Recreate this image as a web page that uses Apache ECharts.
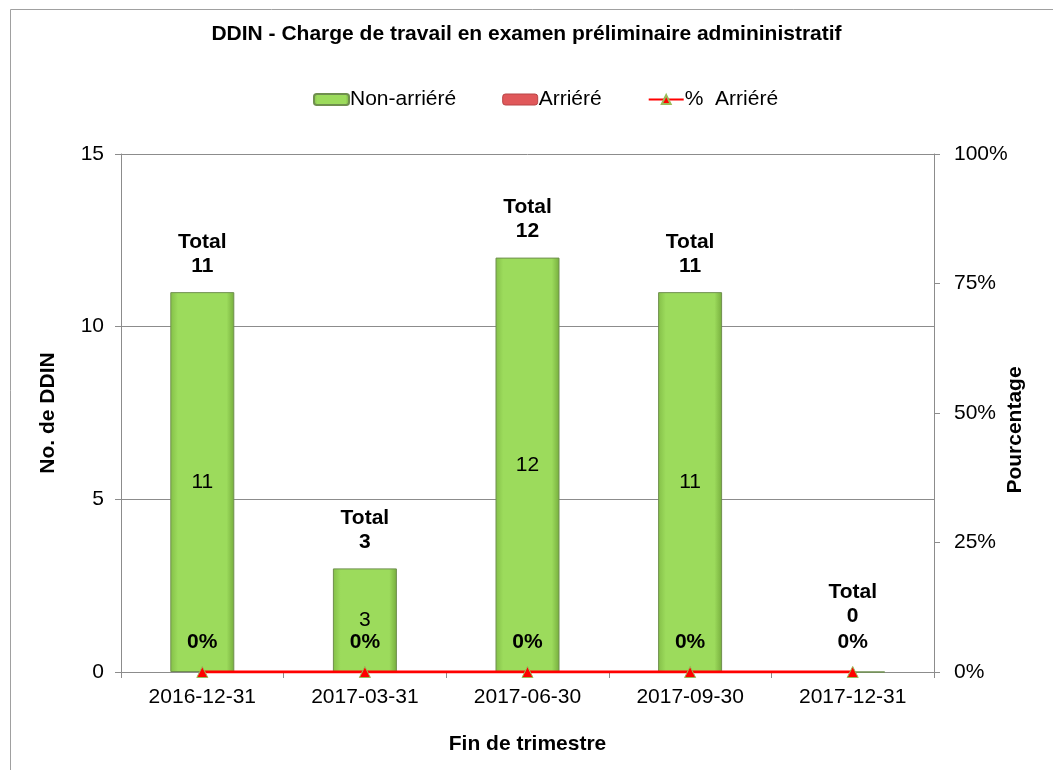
<!DOCTYPE html>
<html>
<head>
<meta charset="utf-8">
<script src="https://cdn.jsdelivr.net/npm/echarts@6/dist/echarts.min.js"></script>
<style>
  html, body { margin: 0; padding: 0; background: #fff; }
  #main { width: 1053px; height: 770px; }
</style>
</head>
<body>
<div id="main"></div>
<script>
// trimestres
var categories = ['2016-12-31', '2017-03-31', '2017-06-30', '2017-09-30', '2017-12-31'];
var nonArriere = [11, 3, 12, 11, 0];
var arriere = [0, 0, 0, 0, 0];
var pctArriere = [0, 0, 0, 0, 0];
var leftTicks = [0, 5, 10, 15];
var rightTicks = [0, 25, 50, 75, 100];

var font = 'Liberation Sans, Arial, sans-serif';
var fs = 21;

function drawChart() {
    var chartDom = document.getElementById('main');
    var myChart = echarts.init(chartDom);
    var option;

    // étiquettes "Total" au-dessus de la pile
    var arriereData = arriere.map(function (v, i) {
        var item = { value: v };
        if (nonArriere[i] + v === 0) {
            item.label = { offset: [0, -30] };
        }
        return item;
    });

    option = {
        animation: false,
        backgroundColor: '#fff',
        textStyle: { fontFamily: font },
        graphic: [{
            type: 'rect',
            shape: { x: 10.5, y: 9.5, width: 1060, height: 800 },
            style: { fill: 'none', stroke: '#a0a0a0', lineWidth: 1 }
        }],
        title: {
            text: 'DDIN - Charge de travail en examen préliminaire admininistratif',
            left: 'center',
            top: 19,
            textStyle: { fontFamily: font, fontSize: 21, fontWeight: 'bold', color: '#000' }
        },
        legend: {
            top: 84,
            left: 308,
            itemWidth: 35,
            itemHeight: 11,
            itemGap: 46,
            textStyle: { fontFamily: font, fontSize: fs, color: '#000', padding: [0, 0, 0, -4] },
            data: [
                'Non-arriéré',
                { name: 'Arriéré', itemStyle: { borderColor: '#b84446', borderWidth: 1 } },
                '%  Arriéré'
            ]
        },
        grid: { left: 121, right: 119, top: 154, bottom: 98, containLabel: false },
        xAxis: {
            type: 'category',
            data: categories,
            name: 'Fin de trimestre',
            nameLocation: 'middle',
            nameGap: 62,
            nameTextStyle: { fontFamily: font, fontSize: fs, fontWeight: 'bold', color: '#000' },
            axisLine: { lineStyle: { color: '#8c8c8c', width: 1 } },
            axisTick: { show: true, length: 6, alignWithLabel: false, lineStyle: { color: '#8c8c8c' } },
            axisLabel: { fontFamily: font, fontSize: fs, color: '#000', margin: 15 }
        },
        yAxis: [
            {
                type: 'value',
                min: 0,
                max: 15,
                interval: 5,
                name: 'No. de DDIN',
                nameLocation: 'middle',
                nameGap: 62,
                nameTextStyle: { fontFamily: font, fontSize: fs, fontWeight: 'bold', color: '#000' },
                axisLine: { show: true, lineStyle: { color: '#8c8c8c' } },
                axisTick: { show: true, length: 6, lineStyle: { color: '#8c8c8c' } },
                axisLabel: {
                    fontFamily: font, fontSize: fs, color: '#000', margin: 17,
                    formatter: function (v) { return leftTicks.indexOf(v) >= 0 ? v : ''; }
                },
                splitLine: { show: true, lineStyle: { color: '#8c8c8c', width: 1 } }
            },
            {
                type: 'value',
                min: 0,
                max: 100,
                interval: 25,
                name: 'Pourcentage',
                nameLocation: 'middle',
                nameGap: 71,
                nameMoveOverlap: false,
                nameTextStyle: { fontFamily: font, fontSize: fs, fontWeight: 'bold', color: '#000', padding: [0, 34, 0, 0] },
                axisLine: { show: true, lineStyle: { color: '#8c8c8c' } },
                axisTick: { show: true, length: 6, lineStyle: { color: '#8c8c8c' } },
                axisLabel: {
                    fontFamily: font, fontSize: fs, color: '#000', margin: 20,
                    formatter: function (v) { return rightTicks.indexOf(v) >= 0 ? v + '%' : ''; }
                },
                splitLine: { show: false }
            }
        ],
        series: [
            {
                name: 'Non-arriéré',
                type: 'bar',
                stack: 'ddin',
                barWidth: 64,
                itemStyle: {
                    color: new echarts.graphic.LinearGradient(0, 0, 1, 0, [
                        { offset: 0, color: '#84bf48' },
                        { offset: 0.12, color: '#9cdb5c' },
                        { offset: 0.88, color: '#9cdb5c' },
                        { offset: 1, color: '#76ad3d' }
                    ]),
                    borderColor: '#6f8f4e',
                    borderWidth: 1
                },
                label: {
                    show: true,
                    position: 'inside',
                    fontFamily: font,
                    fontSize: fs,
                    color: '#000',
                    formatter: function (p) { return p.value > 0 ? p.value : ''; }
                },
                data: nonArriere
            },
            {
                name: 'Arriéré',
                type: 'bar',
                stack: 'ddin',
                barWidth: 64,
                itemStyle: { color: '#e0585a', borderWidth: 0 },
                label: {
                    show: true,
                    position: 'top',
                    distance: 14,
                    fontFamily: font,
                    fontSize: fs,
                    fontWeight: 'bold',
                    lineHeight: 24,
                    color: '#000',
                    formatter: function (p) {
                        return 'Total\n' + (nonArriere[p.dataIndex] + arriere[p.dataIndex]);
                    }
                },
                data: arriereData
            },
            {
                name: '%  Arriéré',
                type: 'line',
                yAxisIndex: 1,
                symbol: 'triangle',
                symbolSize: 11,
                lineStyle: { color: '#ff0000', width: 3 },
                itemStyle: { color: '#ff0000', borderColor: '#9bbb59', borderWidth: 1 },
                label: {
                    show: true,
                    position: 'top',
                    distance: 13,
                    fontFamily: font,
                    fontSize: fs,
                    fontWeight: 'bold',
                    color: '#000',
                    formatter: function (p) { return p.value + '%'; }
                },
                z: 5,
                data: pctArriere
            }
        ]
    };

    option && myChart.setOption(option);
}

drawChart();
</script>
</body>
</html>
